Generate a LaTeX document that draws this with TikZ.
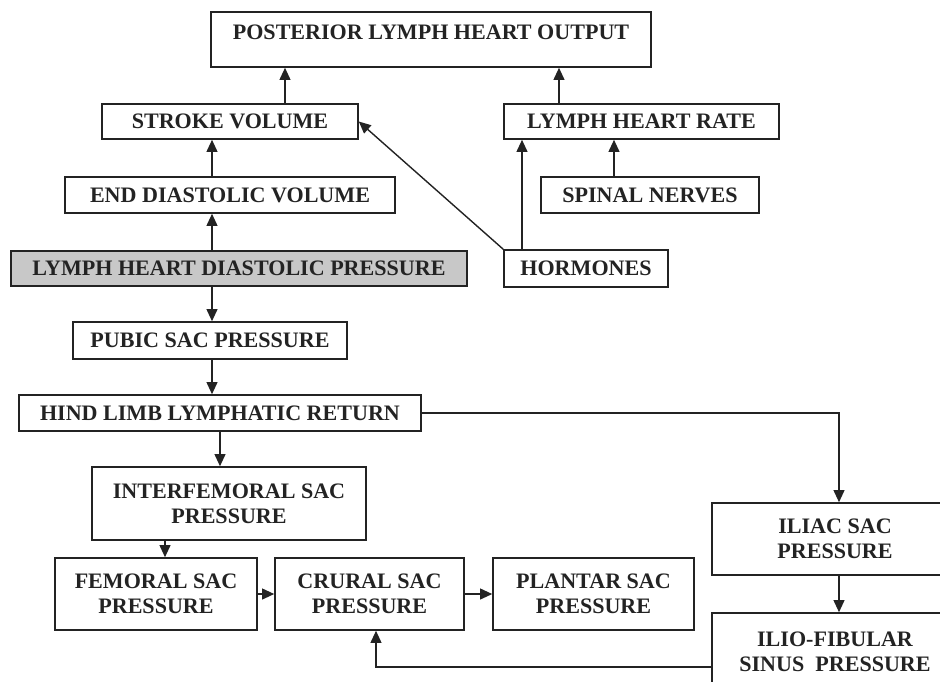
\documentclass[tikz,border=0pt]{standalone}
\usepackage{fontspec}
\setmainfont{Liberation Serif}
\usepackage{tikz}
\usetikzlibrary{arrows.meta,positioning,calc}
\usepackage{xcolor}
\definecolor{inkdark}{RGB}{35,35,35}
\definecolor{boxgrey}{RGB}{200,200,200}
\tikzset{
    sbox/.style={draw=inkdark, line width=1.1pt, fill=#1, text=inkdark,
                 minimum height=0.9cm, align=center, inner sep=2pt,
                 font=\fontsize{15.7}{17.7}\selectfont\bfseries},
    sbox/.default=white,
}

\begin{document}
\begin{tikzpicture}[
    arr/.style={-{Triangle[length=3mm,width=2.7mm]}, line width=1pt, inkdark}
]
    \useasboundingbox (0,0) rectangle (23.5,-17.025);
    % top part: output and its inputs
    \node[sbox, minimum width=11cm, minimum height=1.375cm, text depth=0.35cm] (out) at (10.775,-0.9875) {POSTERIOR LYMPH HEART OUTPUT};
    \node[sbox, minimum width=6.4cm, minimum height=0.875cm] (stroke) at (5.75,-3.0375) {STROKE VOLUME};
    \node[sbox, minimum width=6.875cm, minimum height=0.875cm] (rate) at (16.0375,-3.0375) {LYMPH HEART RATE};
    \node[sbox, minimum width=8.25cm] (edv) at (5.75,-4.875) {END DIASTOLIC VOLUME};
    \node[sbox, minimum width=5.45cm] (nerves) at (16.25,-4.875) {SPINAL NERVES};
    \node[sbox=boxgrey, minimum width=11.4cm, minimum height=0.875cm] (ldp) at (5.975,-6.7125) {LYMPH HEART DIASTOLIC PRESSURE};
    \node[sbox, minimum width=4.1cm, minimum height=0.925cm] (horm) at (14.65,-6.7125) {HORMONES};
    % lower part: sacs
    \node[sbox, minimum width=6.85cm, minimum height=0.925cm] (pubic) at (5.25,-8.5125) {PUBIC SAC PRESSURE};
    \node[sbox, minimum width=10.05cm] (hind) at (5.5,-10.325) {HIND LIMB LYMPHATIC RETURN};
    \node[sbox, minimum width=6.85cm, minimum height=1.825cm] (interfem) at (5.725,-12.5875) {INTERFEMORAL SAC\\PRESSURE};
    \node[sbox, minimum width=5.05cm, minimum height=1.8cm] (femoral) at (3.9,-14.85) {FEMORAL SAC\\PRESSURE};
    \node[sbox, minimum width=4.725cm, minimum height=1.8cm] (crural) at (9.2375,-14.85) {CRURAL SAC\\PRESSURE};
    \node[sbox, minimum width=5.025cm, minimum height=1.8cm] (plantar) at (14.8375,-14.85) {PLANTAR SAC\\PRESSURE};
    \node[sbox, minimum width=6.15cm, minimum height=1.8cm] (iliac) at (20.875,-13.475) {ILIAC SAC\\PRESSURE};
    \node[sbox, minimum width=6.15cm, minimum height=1.925cm] (ilio) at (20.875,-16.2875) {ILIO-FIBULAR\\SINUS~ PRESSURE};

    \coordinate (spine) at (5.3,0);
    \coordinate (sv-up) at (7.125,0);
    \coordinate (hr-up) at (13.975,0);
    \coordinate (sn-up) at (15.35,0);
    \coordinate (ho-up) at (13.05,0);
    \coordinate (if-dn) at (4.125,0);
    \coordinate (il-dn) at (20.975,0);
    \coordinate (back) at (9.4,-16.675);

    \draw[arr] (stroke.north -| sv-up) -- (out.south -| sv-up);
    \draw[arr] (rate.north -| hr-up) -- (out.south -| hr-up);
    \draw[arr] (edv.north -| spine) -- (stroke.south -| spine);
    \draw[arr] (nerves.north -| sn-up) -- (rate.south -| sn-up);
    \draw[arr] (horm.north -| ho-up) -- (rate.south -| ho-up);
    \draw[arr] (horm.north west) -- (stroke.east);
    \draw[arr] (ldp.north -| spine) -- (edv.south -| spine);
    \draw[arr] (ldp.south -| spine) -- (pubic.north -| spine);
    \draw[arr] (pubic.south -| spine) -- (hind.north -| spine);
    \draw[arr] (hind.south) -- (hind.south |- interfem.north);
    \draw[arr] (interfem.south -| if-dn) -- (femoral.north -| if-dn);
    \draw[arr] (femoral) -- (crural);
    \draw[arr] (crural) -- (plantar);
    \draw[arr] (hind.east) -| (iliac.north -| il-dn);
    \draw[arr] (iliac.south -| il-dn) -- (ilio.north -| il-dn);
    \draw[arr] (ilio.west |- back) -| (crural.south -| back);
\end{tikzpicture}
\end{document}
